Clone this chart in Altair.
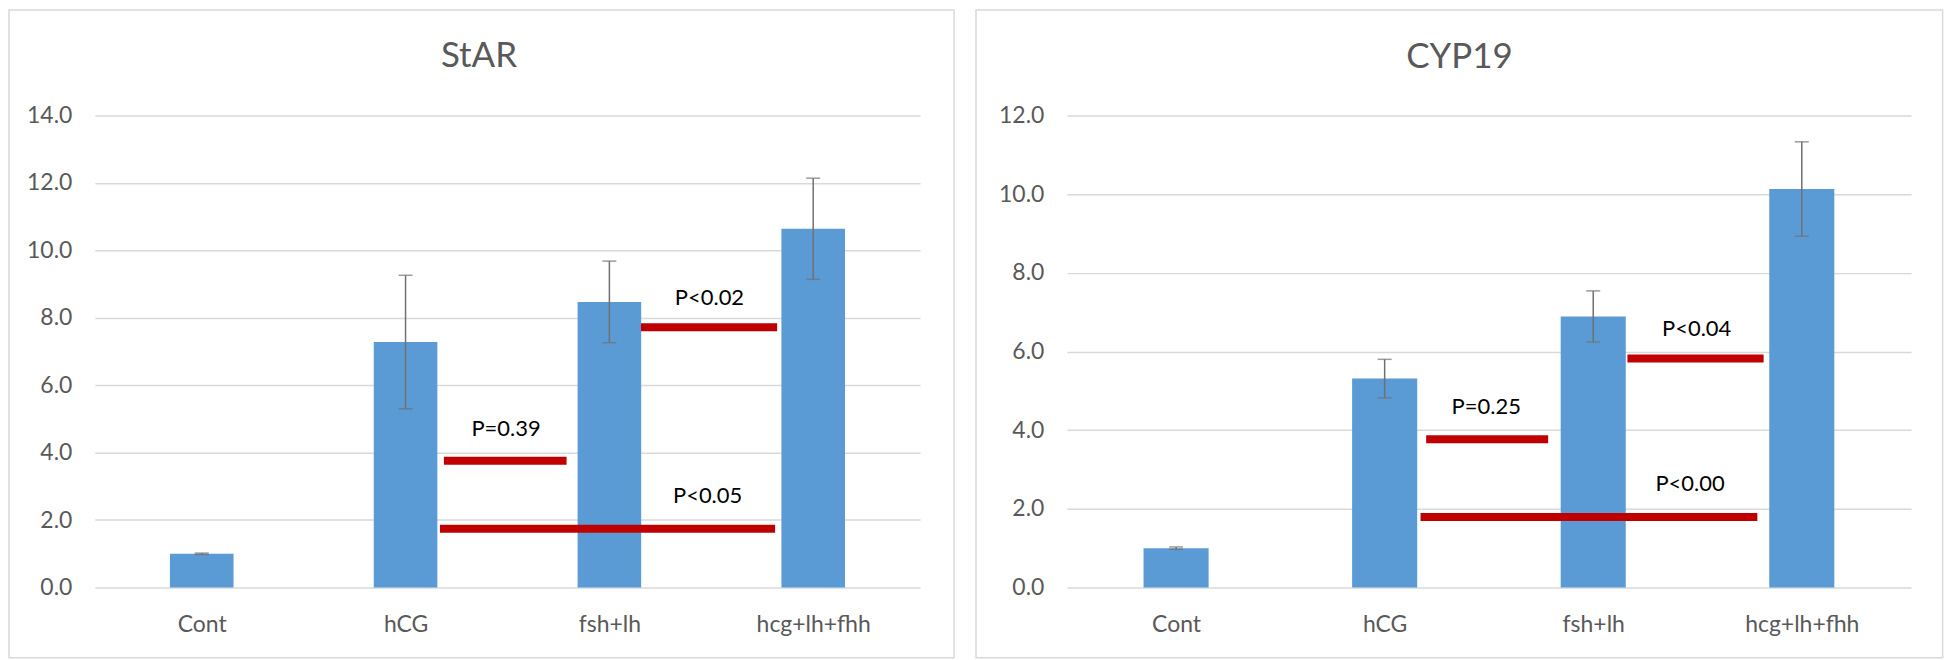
import altair as alt
import pandas as pd

# ---- data ----
categories = ["Cont", "hCG", "fsh+lh", "hcg+lh+fhh"]

star_mean = [1.0, 7.28, 8.47, 10.64]
star_err = [0.02, 1.98, 1.21, 1.50]
cyp_mean = [1.0, 5.31, 6.89, 10.13]
cyp_err = [0.03, 0.49, 0.65, 1.20]

# significance brackets (x in category units: category i is centred at i + 0.5)
star_p_label = ["P=0.39", "P<0.02", "P<0.05"]
star_p_level = [3.76, 7.72, 1.74]
star_p_from = [1.688, 2.655, 1.669]
star_p_to = [2.290, 3.323, 3.313]
star_p_text_x = [1.993, 2.991, 2.982]
star_p_text_y = [4.70, 8.60, 2.72]

cyp_p_label = ["P=0.25", "P<0.04", "P<0.00"]
cyp_p_level = [3.77, 5.82, 1.79]
cyp_p_from = [1.699, 2.664, 1.672]
cyp_p_to = [2.284, 3.317, 3.287]
cyp_p_text_x = [1.987, 2.996, 2.964]
cyp_p_text_y = [4.60, 6.57, 2.63]

BAR_HALF = 0.156  # half bar width in category units (Excel gap width ~219%)

FONT = "Lato"
GRAY = "#595959"


def panel(title, means, errs, plab, plev, pfrom, pto, ptx, pty, ymax, width, height,
          frame, title_pos):
    pos = [i + 0.5 for i in range(len(categories))]
    bars = pd.DataFrame({"cat": categories, "pos": pos, "mean": means, "err": errs})
    bars["x0"] = bars["pos"] - BAR_HALF
    bars["x1"] = bars["pos"] + BAR_HALF
    bars["lo"] = bars["mean"] - bars["err"]
    bars["hi"] = bars["mean"] + bars["err"]

    ann = pd.DataFrame({"label": plab, "level": plev, "x0": pfrom, "x1": pto,
                        "tx": ptx, "ty": pty})

    label_expr = "[" + ",".join(f"'{c}'" for c in categories) + "][floor(datum.value)]"
    xscale = alt.Scale(domain=[0, len(categories)], nice=False, zero=False)
    yscale = alt.Scale(domain=[0, ymax], nice=False)
    xaxis = alt.Axis(values=pos, labelExpr=label_expr, title=None, domain=False,
                     ticks=False, tickSize=0, grid=False, labelFontSize=23,
                     labelColor=GRAY, labelFont=FONT, labelPadding=26, labelAngle=0)
    yaxis = alt.Axis(values=list(range(0, ymax + 1, 2)), format=".1f", title=None,
                     domain=False, ticks=False, tickSize=0, gridColor="#d9d9d9",
                     gridWidth=1.5, labelFontSize=23, labelColor=GRAY, labelFont=FONT,
                     labelPadding=23)

    def X(f):
        return alt.X(f, scale=xscale, axis=xaxis, title=None)

    def Y(f):
        return alt.Y(f, scale=yscale, axis=yaxis, title=None)

    tdf = pd.DataFrame({"t": [title]})
    fx, fx2, fy, fy2 = frame
    frame_mark = alt.Chart(tdf).mark_rect(fillOpacity=0, stroke="#d9d9d9", strokeWidth=1.5).encode(
        x=alt.value(fx), x2=alt.value(fx2), y=alt.value(fy), y2=alt.value(fy2))

    base = alt.Chart(bars)
    bar = base.mark_bar(color="#5b9bd5", orient="vertical").encode(
        x=X("x0:Q"), x2="x1:Q", y=Y("mean:Q"), y2=alt.datum(0))
    err = base.mark_rule(color="#707070", strokeWidth=1.5).encode(
        x=X("pos:Q"), y=Y("lo:Q"), y2="hi:Q")
    cap_lo = base.mark_tick(orient="horizontal", size=14, thickness=1.5, color="#707070").encode(
        x=X("pos:Q"), y=Y("lo:Q"))
    cap_hi = base.mark_tick(orient="horizontal", size=14, thickness=1.5, color="#707070").encode(
        x=X("pos:Q"), y=Y("hi:Q"))

    abase = alt.Chart(ann)
    pline = abase.mark_rule(color="#c00000", strokeWidth=8, strokeCap="butt").encode(
        x=X("x0:Q"), x2="x1:Q", y=Y("level:Q"))
    ptext = abase.mark_text(font=FONT, fontSize=22, color="black").encode(
        x=X("tx:Q"), y=Y("ty:Q"), text="label:N")

    tx, ty = title_pos
    title_mark = alt.Chart(tdf).mark_text(font=FONT, fontSize=35, color=GRAY,
                                          align="center", baseline="alphabetic").encode(
        x=alt.value(tx), y=alt.value(ty), text="t:N")

    return alt.layer(frame_mark, bar, err, cap_lo, cap_hi, pline, ptext, title_mark).properties(
        width=width, height=height)


left = panel("StAR", star_mean, star_err, star_p_label, star_p_level, star_p_from, star_p_to,
             star_p_text_x, star_p_text_y, 14, 827, 473,
             (-86, 861, -105.6, 543.4), (385, -48.6))
right = panel("CYP19", cyp_mean, cyp_err, cyp_p_label, cyp_p_level, cyp_p_from, cyp_p_to,
              cyp_p_text_x, cyp_p_text_y, 12, 846, 473,
              (-91, 877.6, -105.6, 543.4), (393.5, -47.6))

chart = alt.hconcat(left, right, spacing=20).properties(
    padding=0, background="white").configure_view(stroke=None)

chart.save("out.html", embed_options={"renderer": "svg", "actions": False})
